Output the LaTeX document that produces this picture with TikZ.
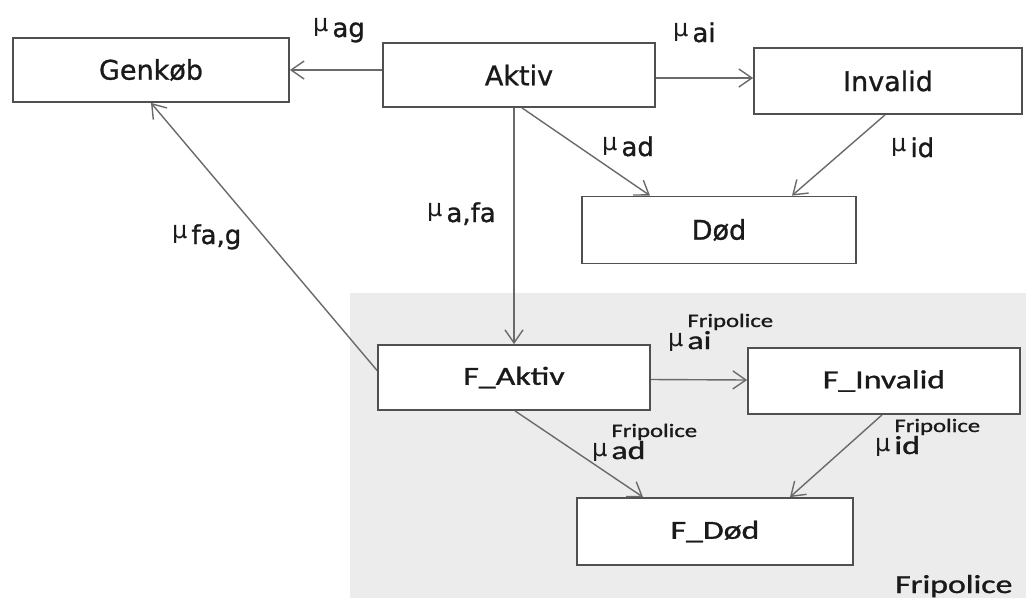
\documentclass[tikz,border=0pt]{standalone}
\usepackage{fontspec}
\usepackage{graphicx}
\setmainfont[FakeBold=1]{DejaVu Sans}
\newfontfamily\mufnt{DejaVu Sans}
\newfontfamily\calfnt[FakeBold=1]{Carlito}
\usetikzlibrary{arrows.meta}
\definecolor{boxgray}{HTML}{505050}
\definecolor{arrgray}{HTML}{6A6A6A}
\definecolor{bggray}{HTML}{ECECEC}
\definecolor{txt}{HTML}{1A1A1A}
\newcommand{\topfont}{\fontsize{27}{30}\selectfont}
\newcommand{\mufont}{\mufnt\fontsize{24}{26}\selectfont}
\newcommand{\subfont}{\fontsize{26}{28}\selectfont}
\newcommand{\botbox}[1]{\scalebox{1.3}[1]{\calfnt\fontsize{26}{28}\selectfont #1}}
\newcommand{\mulab}[1]{{\mufont μ}\hspace{4pt}\raisebox{-6pt}{\subfont #1}}
\newcommand{\fmulab}[1]{{\mufont μ}\hspace{4pt}\raisebox{-3pt}{\rlap{\raisebox{22pt}{\scalebox{1.3}[1]{\calfnt\fontsize{19}{20}\selectfont Fripolice}}}\scalebox{1.3}[1]{\calfnt\fontsize{26}{28}\selectfont #1}}}
\begin{document}
\begin{tikzpicture}[x=1pt,y=-1pt,
  box/.style={draw=boxgray, line width=1.8pt, fill=white, text=txt, inner sep=0pt},
  arr/.style={draw=arrgray, line width=1.4pt, -{Straight Barb[length=13pt,width=18pt,line width=1.4pt]}},
  lab/.style={anchor=base west, inner sep=0pt, text=txt}]
\useasboundingbox (0,0) rectangle (1026,598);
\fill[white] (0,0) rectangle (1026,598);
\fill[bggray] (350,293) rectangle (1026,598);

\node[box, minimum width=276pt, minimum height=64pt] (gen) at (151,70) {\topfont Genkøb};
\node[box, minimum width=272pt, minimum height=64pt] (akt) at (519,75) {\topfont Aktiv};
\node[box, minimum width=268pt, minimum height=66pt] (inv) at (888,81) {\topfont Invalid};
\node[box, minimum width=274pt, minimum height=67pt] (dod) at (719,230) {\topfont Død};
\node[box, minimum width=272pt, minimum height=65pt] (fakt) at (514,377.5) {\botbox{F\_Aktiv}};
\node[box, minimum width=272pt, minimum height=66pt] (finv) at (884,381) {\botbox{F\_Invalid}};
\node[box, minimum width=276pt, minimum height=67pt] (fdod) at (715,531.5) {\botbox{F\_Død}};

\draw[arr] (akt.west |- gen.east) -- (gen.east);
\draw[arr] ([yshift=-3pt]akt.east) -- ([yshift=3pt]inv.west);
\draw[arr] ([xshift=3pt]akt.south) -- ([xshift=-69pt]dod.north);
\draw[arr] ([xshift=-3pt]inv.south) -- ([xshift=73pt]dod.north);
\draw[arr] (akt.south -| fakt.north) -- (fakt.north);
\draw[arr] ([yshift=7pt]fakt.west) -- (gen.south);
\draw[arr] ([yshift=-2pt]fakt.east) -- ([yshift=1pt]finv.west);
\draw[arr] ([xshift=1pt]fakt.south) -- ([xshift=-72pt]fdod.north);
\draw[arr] ([xshift=-2pt]finv.south) -- ([xshift=75pt]fdod.north);

\node[lab] (lag) at (313,31) {\mulab{ag}};
\node[lab] (lai) at (673,36) {\mulab{ai}};
\node[lab] (lad) at (602,150) {\mulab{ad}};
\node[lab] (lid) at (891,151) {\mulab{id}};
\node[lab] (lafa) at (427,216) {\mulab{a,fa}};
\node[lab] (lfag) at (172,238) {\mulab{fa,g}};
\node[lab] (fai) at (668,346) {\fmulab{ai}};
\node[lab] (fad) at (592,456) {\fmulab{ad}};
\node[lab] (fid) at (875,451) {\fmulab{id}};
\node[lab] (frip) at (895,593) {\scalebox{1.3}[1]{\calfnt\fontsize{26}{28}\selectfont Fripolice}};
\end{tikzpicture}
\end{document}
